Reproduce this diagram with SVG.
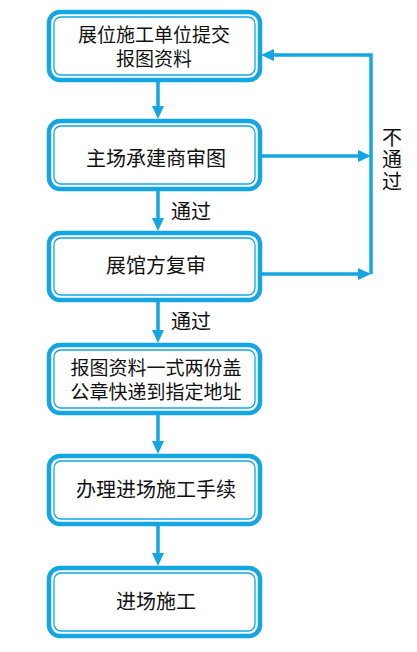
<svg xmlns="http://www.w3.org/2000/svg" width="417" height="652" viewBox="0 0 417 652">
<style>
.o{fill:#fff;stroke:#13a6e2;stroke-width:4.5}
.i{fill:none;stroke:#13a6e2;stroke-width:1.3}
.t{font-family:"Liberation Sans","Noto Sans CJK SC",sans-serif;font-size:20px;fill:#111;text-anchor:middle}
.s{font-size:19px}
.v{font-family:"Noto Sans CJK SC","Noto Sans",sans-serif;font-size:20px;fill:#111;writing-mode:vertical-rl;letter-spacing:2px}
.c{stroke:#13a6e2;stroke-width:3.5;fill:none}
.h{fill:#13a6e2}
</style>
<rect width="417" height="652" fill="#fff"/>
<g id="connectors">
<line class="c" x1="158" y1="82" x2="158" y2="108"/>
<polygon class="h" points="152,106 164,106 158,119"/>
<line class="c" x1="158" y1="191" x2="158" y2="220"/>
<polygon class="h" points="152,218 164,218 158,231"/>
<line class="c" x1="158" y1="301" x2="158" y2="332"/>
<polygon class="h" points="152,330 164,330 158,343"/>
<line class="c" x1="158" y1="414" x2="158" y2="443"/>
<polygon class="h" points="152,441 164,441 158,454"/>
<line class="c" x1="158" y1="526" x2="158" y2="555"/>
<polygon class="h" points="152,553 164,553 158,566"/>
<line class="c" x1="262" y1="156" x2="360" y2="156"/>
<polygon class="h" points="358,150 358,162 371,156"/>
<line class="c" x1="262" y1="274" x2="360" y2="274"/>
<polygon class="h" points="358,268 358,280 371,274"/>
<polyline class="c" points="371,274 371,55 272,55"/>
<polygon class="h" points="274,49 274,61 261,55"/>
<text class="t" x="191" y="219">通过</text>
<text class="t" x="191" y="329">通过</text>
<text class="v" x="392" y="127">不通过</text>
</g>
<g id="n1">
<rect class="o" x="49" y="12" width="211" height="68" rx="11"/>
<rect class="i" x="54" y="17" width="201" height="58" rx="7"/>
<text class="t s" x="154" y="42">展位施工单位提交<tspan x="154" dy="24">报图资料</tspan></text>
</g>
<g id="n2">
<rect class="o" x="49" y="121" width="211" height="68" rx="11"/>
<rect class="i" x="54" y="126" width="201" height="58" rx="7"/>
<text class="t" x="156" y="166">主场承建商审图</text>
</g>
<g id="n3">
<rect class="o" x="49" y="233" width="211" height="67" rx="11"/>
<rect class="i" x="54" y="238" width="201" height="57" rx="7"/>
<text class="t" x="156" y="273">展馆方复审</text>
</g>
<g id="n4">
<rect class="o" x="49" y="345" width="211" height="68" rx="11"/>
<rect class="i" x="54" y="350" width="201" height="58" rx="7"/>
<text class="t s" x="156" y="375">报图资料一式两份盖<tspan x="156" dy="24">公章快递到指定地址</tspan></text>
</g>
<g id="n5">
<rect class="o" x="49" y="456" width="211" height="68" rx="11"/>
<rect class="i" x="54" y="461" width="201" height="58" rx="7"/>
<text class="t" x="156" y="497">办理进场施工手续</text>
</g>
<g id="n6">
<rect class="o" x="49" y="568" width="211" height="68" rx="11"/>
<rect class="i" x="54" y="573" width="201" height="58" rx="7"/>
<text class="t" x="156" y="609">进场施工</text>
</g>
</svg>
